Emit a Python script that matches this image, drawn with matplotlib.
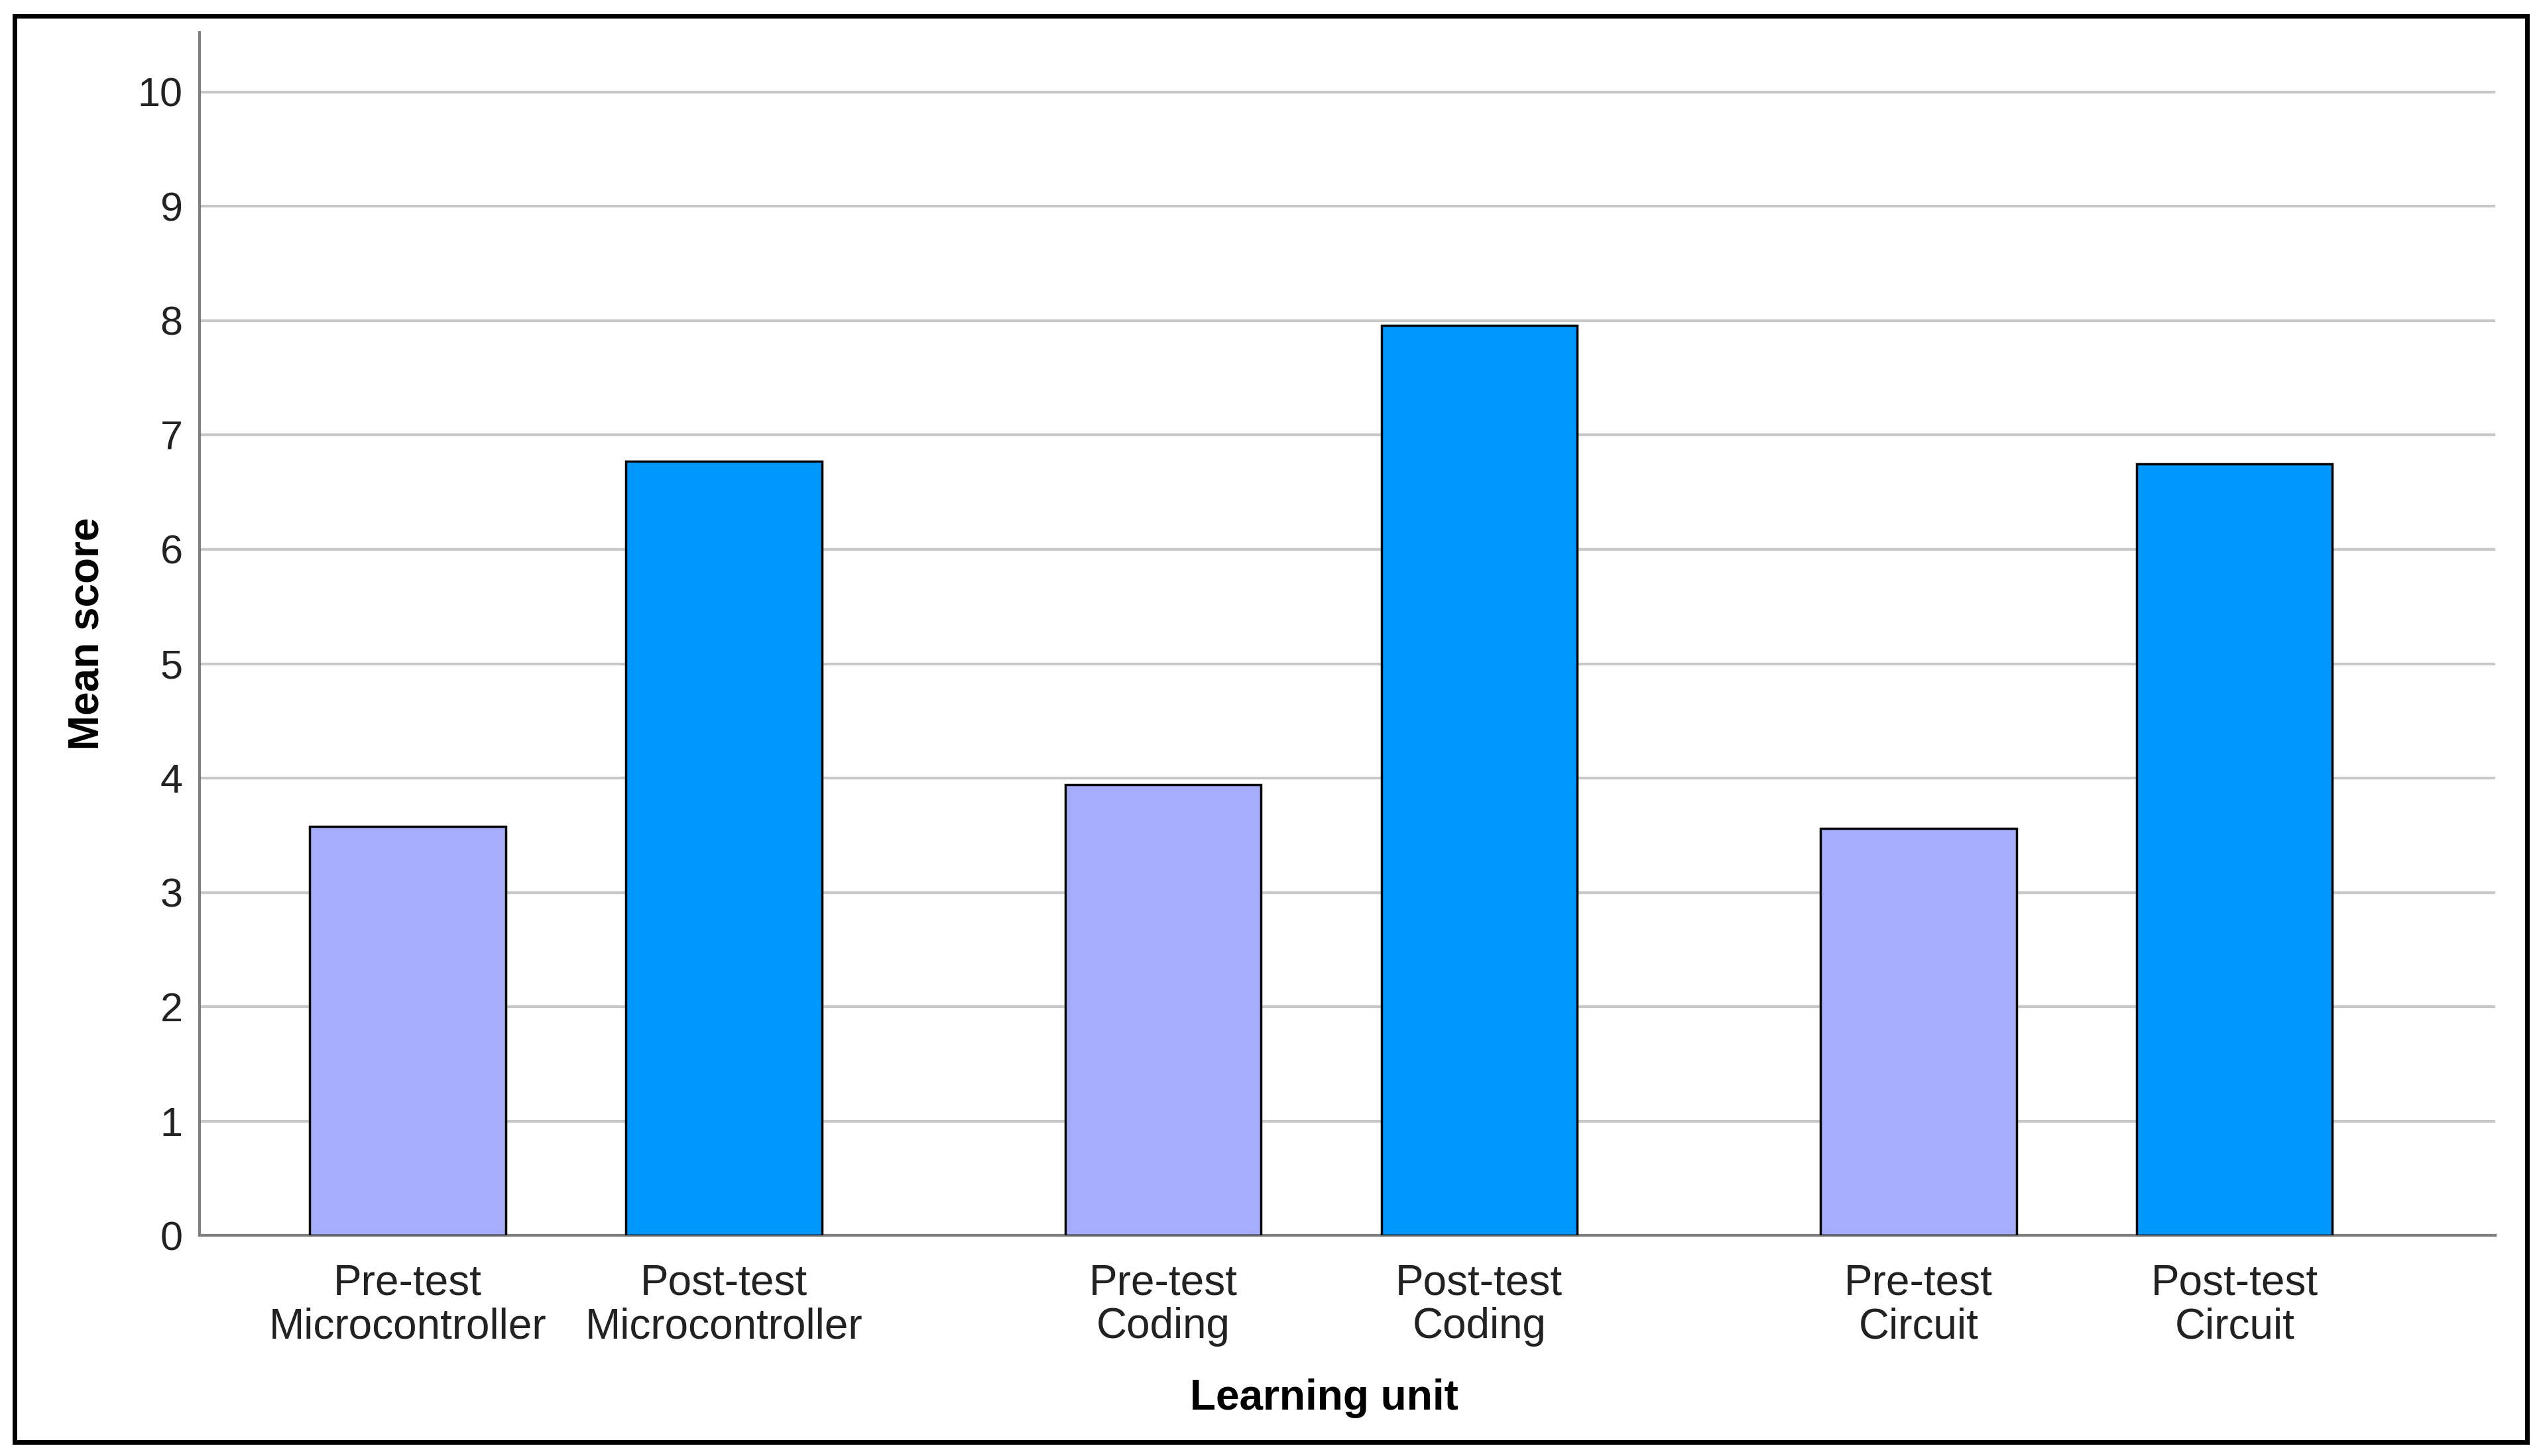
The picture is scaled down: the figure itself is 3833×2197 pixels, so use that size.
import numpy as np
import matplotlib
matplotlib.use('Agg')
import matplotlib.pyplot as plt
from matplotlib.patches import Rectangle


plt.rcParams['font.family'] = ['Liberation Sans', 'DejaVu Sans']

# data
units = ['Microcontroller', 'Coding', 'Circuit']
pre_scores = [3.58, 3.94, 3.56]
post_scores = [6.77, 7.96, 6.75]
yticks = list(range(0, 11))

pre_color = '#A6ADFA'
post_color = '#0098FF'

group_step = 2.39      # distance between groups
bar_w = 0.62

fig = plt.figure(figsize=(38.33, 21.97), dpi=100)
ax = fig.add_axes([0.0784, 0.1514, 0.9036, 0.8263])

pos = np.arange(len(units)) * group_step
ax.bar(pos, pre_scores, width=bar_w, color=pre_color, edgecolor='black',
       linewidth=2.5, zorder=3)
ax.bar(pos + 1, post_scores, width=bar_w, color=post_color, edgecolor='black',
       linewidth=2.5, zorder=3)

ticks_x = np.sort(np.concatenate([pos, pos + 1]))
labels_x = []
for u in units:
    labels_x.append('Pre-test\n' + u)
    labels_x.append('Post-test\n' + u)
ax.set_xticks(ticks_x)
ax.set_xticklabels(labels_x, fontsize=46, color='#222222', linespacing=1.13)
ax.set_yticks(yticks)
ax.set_yticklabels([str(t) for t in yticks], fontsize=44, color='#222222')
ax.tick_params(axis='both', length=0)
ax.tick_params(axis='y', pad=18)
ax.tick_params(axis='x', pad=30)

ax.set_xlim(-0.66, 6.605)
ax.set_ylim(0, 10.52)

# gridlines
ax.yaxis.grid(True, color='#C8C8C8', linewidth=3, zorder=0)
ax.set_axisbelow(True)

for side in ['top', 'right']:
    ax.spines[side].set_visible(False)
for side in ['left', 'bottom']:
    ax.spines[side].set_color('#7F7F7F')
    ax.spines[side].set_linewidth(3)

ax.set_xlabel('Learning unit', fontsize=46, fontweight='bold')
ax.set_ylabel('Mean score', fontsize=46, fontweight='bold')
ax.xaxis.set_label_coords(0.49, -0.119)
ax.yaxis.set_label_coords(-0.04, 0.5)

# black frame round the whole picture
fig.patches.append(Rectangle((0.0057, 0.0095), 0.9888, 0.9798,
                             transform=fig.transFigure, fill=False,
                             edgecolor='black', linewidth=5))

fig.savefig('out.png', dpi=100, facecolor='white')
